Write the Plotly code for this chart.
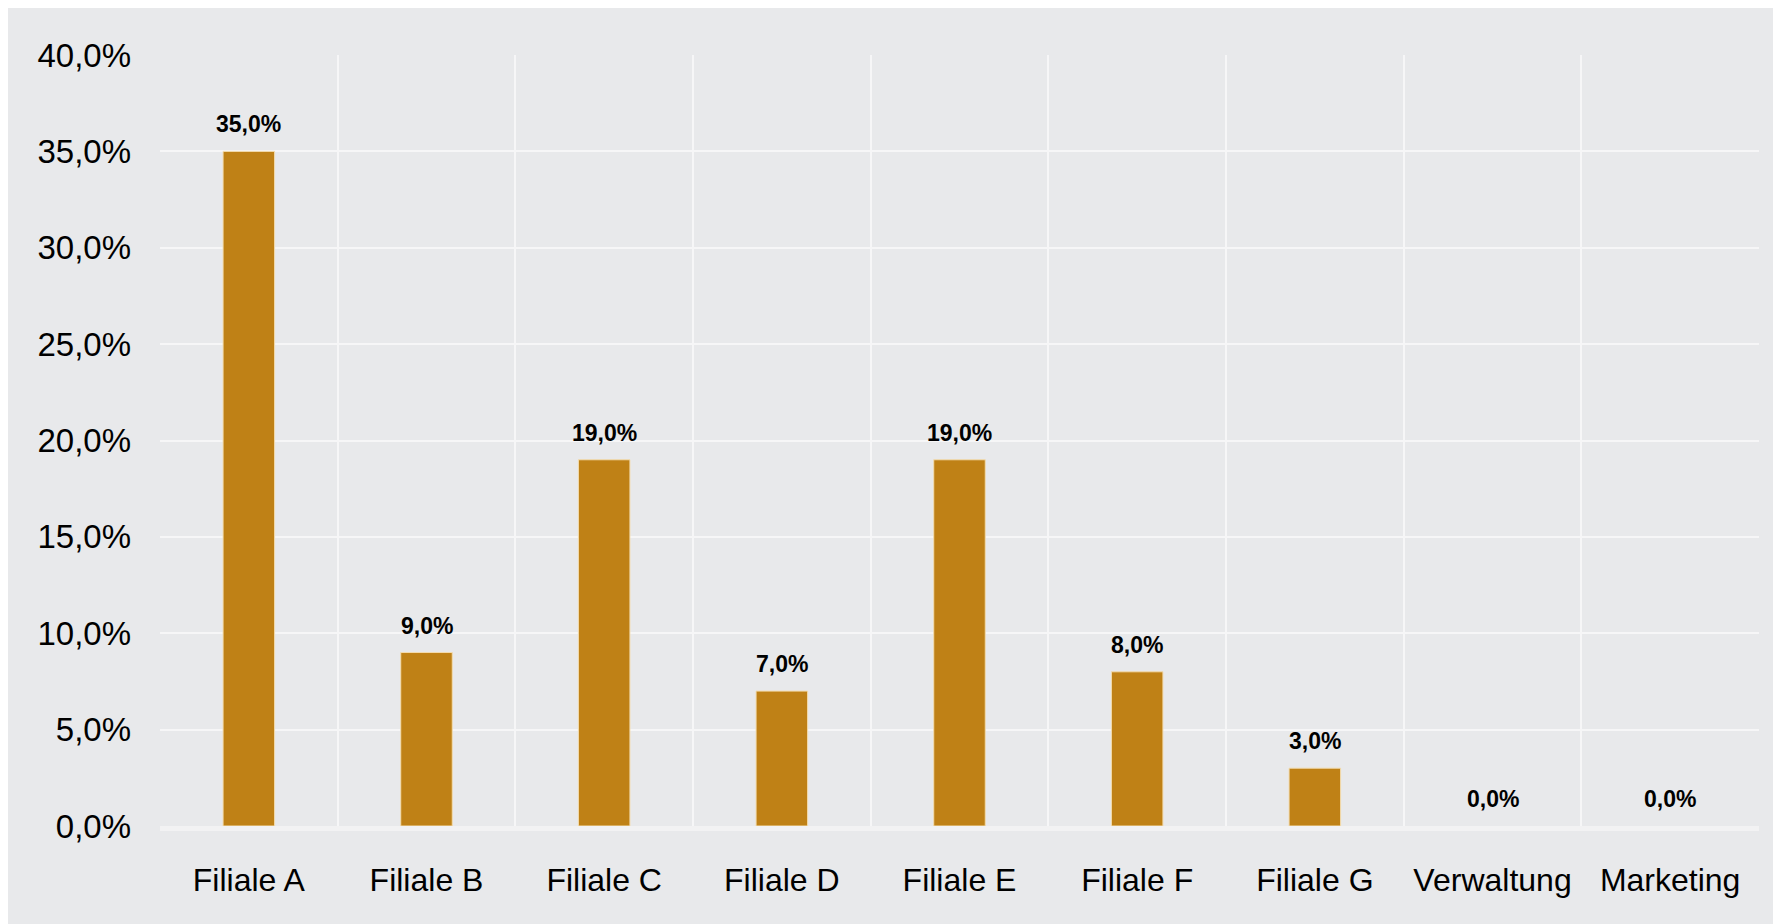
import plotly.graph_objects as go

categories = ["Filiale A", "Filiale B", "Filiale C", "Filiale D", "Filiale E",
              "Filiale F", "Filiale G", "Verwaltung", "Marketing"]
values = [35.0, 9.0, 19.0, 7.0, 19.0, 8.0, 3.0, 0.0, 0.0]
y_ticks = [0, 5, 10, 15, 20, 25, 30, 35, 40]
y_tick_labels = ["0,0%", "5,0%", "10,0%", "15,0%", "20,0%",
                 "25,0%", "30,0%", "35,0%", "40,0%"]

FONT = "Arial, Liberation Sans, sans-serif"
BG = "#e8e9eb"
GRID = "#f6f6f7"

fig = go.Figure()
fig.add_trace(go.Bar(
    x=categories, y=values, width=0.29,
    marker=dict(color="#bf8116",
                line=dict(color="#f3dcae", width=[1 if v > 0 else 0 for v in values])),
    hoverinfo="x+y",
))

for c, v in zip(categories, values):
    fig.add_annotation(
        x=c, y=v, text=f"{v:.1f}".replace(".", ",") + "%",
        showarrow=False, yanchor="bottom", yshift=12,
        font=dict(family=FONT, size=23, color="#000000", weight="bold"),
    )

fig.update_layout(
    width=1770, height=916,
    margin=dict(l=152, r=19, t=47, b=98, pad=0),
    paper_bgcolor=BG,
    plot_bgcolor=BG,
    showlegend=False,
    font=dict(family=FONT, color="#000000"),
    xaxis=dict(
        type="category", tickson="boundaries",
        showgrid=True, gridcolor=GRID, gridwidth=2,
        showline=True, linecolor="#f2f2f3", linewidth=5,
        ticks="", tickfont=dict(size=32, family=FONT, color="#000000"),
        ticklabelstandoff=22, range=[-0.5, 8.5],
    ),
    yaxis=dict(
        range=[0, 40], tickvals=y_ticks, ticktext=y_tick_labels,
        showgrid=True, gridcolor=GRID, gridwidth=2,
        zeroline=False, showline=False, ticks="",
        tickfont=dict(size=33, family=FONT, color="#000000"),
        ticklabelstandoff=28,
    ),
)

fig.write_html("out.html")
